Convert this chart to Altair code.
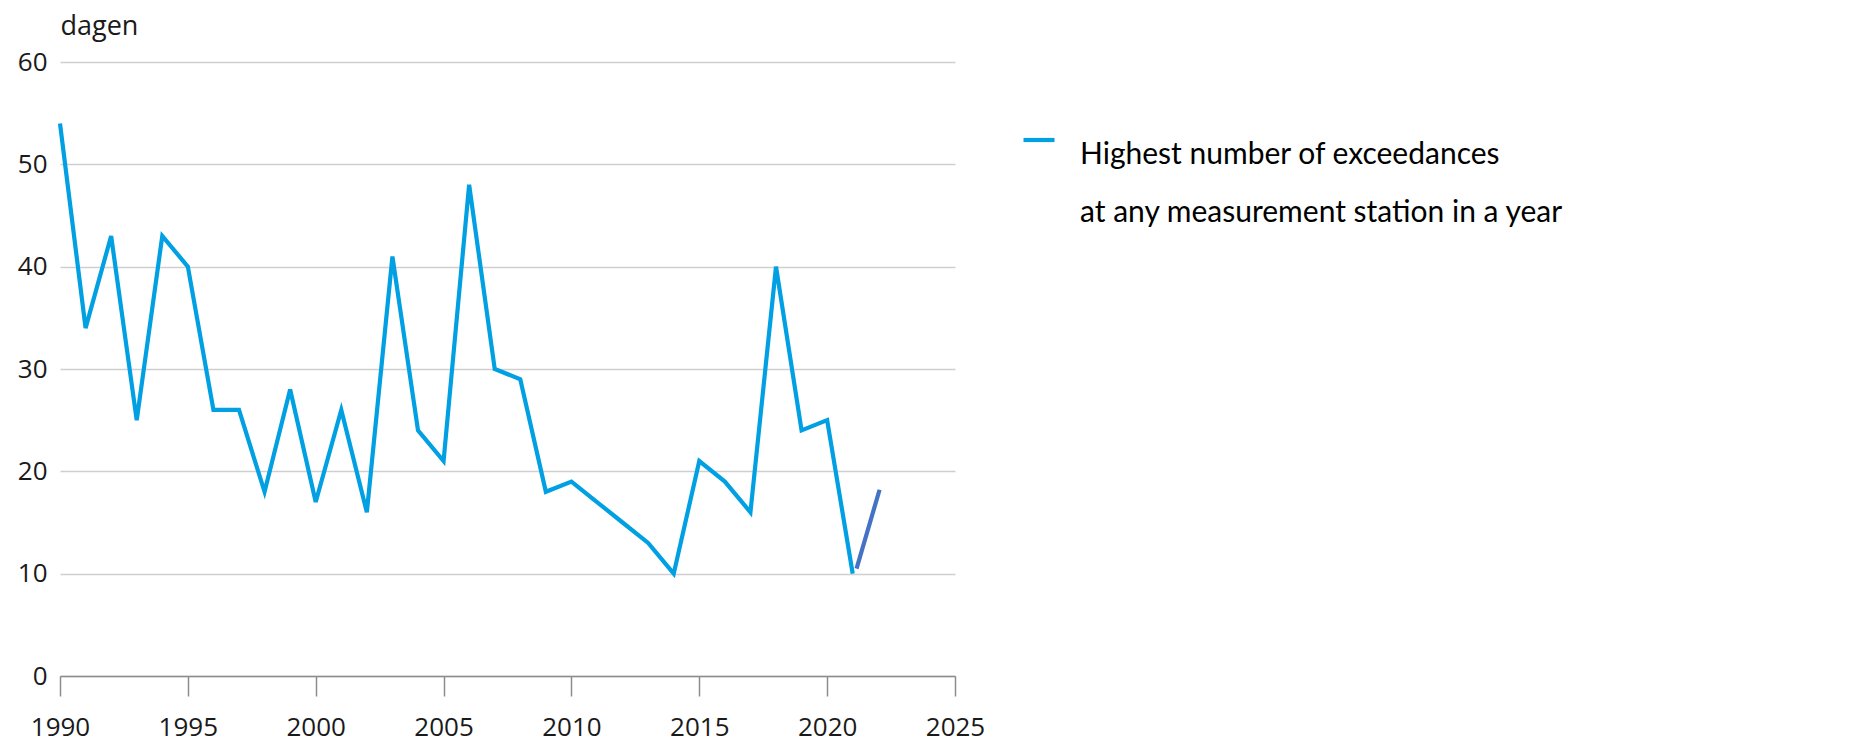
import altair as alt
import pandas as pd

# --- data ---
years = list(range(1990, 2022))
values = [54, 34, 43, 25, 43, 40, 26, 26, 18, 28,
          17, 26, 16, 41, 24, 21, 48, 30, 29, 18,
          19, 17, 15, 13, 10, 21, 19, 16, 40, 24,
          25, 10]
series_label = "Highest number of exceedances|at any measurement station in a year"

seg_years = [2021.15, 2022.05]
seg_values = [10.5, 18.2]

x_ticks = [1990, 1995, 2000, 2005, 2010, 2015, 2020, 2025]
y_ticks = [0, 10, 20, 30, 40, 50, 60]

main_color = "#00A0E2"
seg_color = "#4472C4"
axis_font = "Open Sans"
legend_font = "Lato"

df = pd.DataFrame({"year": years, "value": values, "series": series_label})
df2 = pd.DataFrame({"year": seg_years, "value": seg_values})

x_enc = alt.X(
    "year:Q",
    scale=alt.Scale(domain=[1990, 2025], nice=False, zero=False),
    axis=alt.Axis(
        values=x_ticks, format="d", grid=False, title=None,
        tickSize=20, tickColor="#8c8c8c", tickWidth=1.5,
        domainColor="#8c8c8c", domainWidth=1.5,
        labelFont=axis_font, labelFontSize=26, labelColor="#1a1a1a",
        labelPadding=18, labelFlush=False, labelOverlap=False,
    ),
)
y_enc = alt.Y(
    "value:Q",
    scale=alt.Scale(domain=[0, 60], nice=False),
    axis=alt.Axis(
        values=y_ticks, grid=True, gridColor="#cfcfcf", gridWidth=1.5,
        domain=False, ticks=False, labelPadding=13,
        labelFont=axis_font, labelFontSize=26, labelColor="#1a1a1a",
        title="dagen", titleAngle=0, titleX=0, titleY=-28,
        titleAlign="left", titleBaseline="alphabetic", titleFont=axis_font,
        titleFontSize=27, titleFontWeight="normal", titleColor="#1a1a1a",
    ),
)

main = alt.Chart(df).mark_line(strokeWidth=4.2, strokeJoin="miter").encode(
    x=x_enc,
    y=y_enc,
    color=alt.Color(
        "series:N",
        scale=alt.Scale(domain=[series_label], range=[main_color]),
        legend=alt.Legend(
            orient="none", legendX=961, legendY=60, title=None,
            symbolType="stroke", symbolSize=961, symbolStrokeWidth=4.2,
            labelOffset=23, labelFont=legend_font, labelFontSize=30,
            labelColor="#000000", labelLimit=0, labelBaseline="top",
            labelExpr="split(datum.label, '|')", padding=0,
        ),
    ),
)

seg = alt.Chart(df2).mark_line(strokeWidth=4.2, color=seg_color, strokeCap="butt").encode(
    x="year:Q",
    y="value:Q",
)

chart = (
    alt.layer(main, seg)
    .properties(
        width=895, height=614,
        autosize=alt.AutoSizeParams(type="none"),
        padding={"left": 52, "top": 54, "right": 880, "bottom": 72},
    )
    .configure(
        view={"stroke": None},
        style={"guide-label": {"lineHeight": 58}},
    )
)

chart.save("out.html", embed_options={"renderer": "svg", "actions": False})
